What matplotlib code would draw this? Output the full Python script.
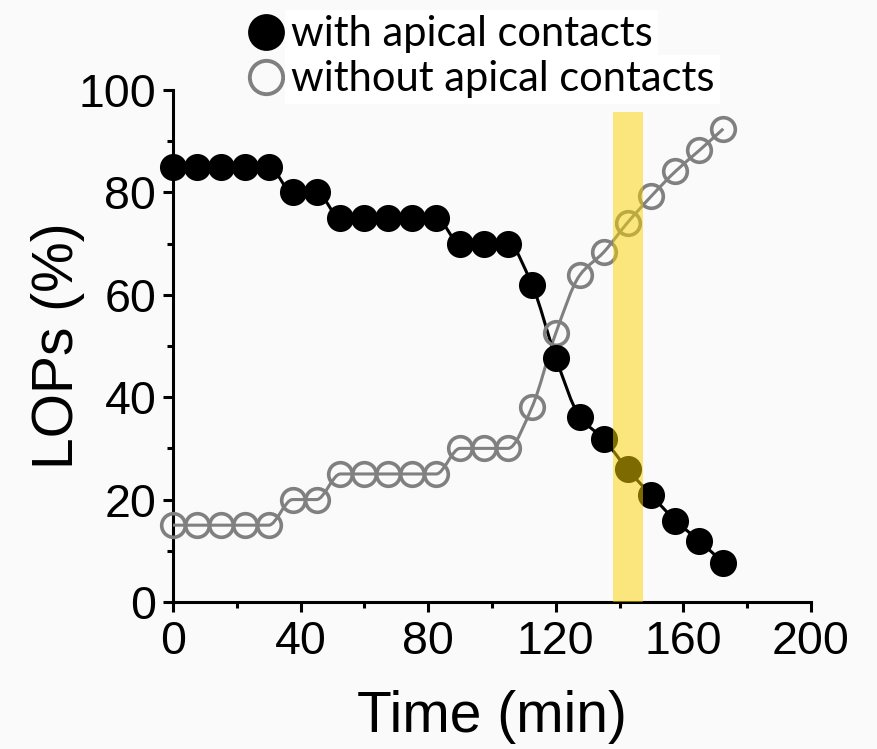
import numpy as np
import matplotlib
matplotlib.use("Agg")
import matplotlib.pyplot as plt
from matplotlib.path import Path
from matplotlib.patches import PathPatch
from matplotlib.lines import Line2D
from matplotlib.ticker import MultipleLocator

# ---- data ----
time_min = [0, 7.5, 15, 22.5, 30, 37.5, 45, 52.5, 60, 67.5, 75, 82.5, 90, 97.5,
            105, 112.5, 120, 127.5, 135, 142.5, 150, 157.5, 165, 172.5]
with_apical = [85, 85, 85, 85, 85, 80, 80, 75, 75, 75, 75, 75, 70, 70, 70,
               62, 47.7, 36.2, 31.8, 25.9, 20.8, 15.9, 11.9, 7.7]
without_apical = [15, 15, 15, 15, 15, 20, 20, 25, 25, 25, 25, 25, 30, 30, 30,
                  38, 52.5, 63.8, 68.3, 74.1, 79.3, 84.1, 88.2, 92.4]
highlight_span = [137.8, 147.2]
series_labels = ["with apical contacts", "without apical contacts"]
x_ticks = [0, 40, 80, 120, 160, 200]
y_ticks = [0, 20, 40, 60, 80, 100]

BG = "#fafafa"


def pchip_bezier_path(x, y):
    """Monotone cubic (Fritsch-Carlson) curve through the points, as a Bezier path."""
    x = np.asarray(x, float)
    y = np.asarray(y, float)
    h = np.diff(x)
    d = np.diff(y) / h
    n = len(x)
    m = np.zeros(n)
    for k in range(1, n - 1):
        if d[k - 1] * d[k] <= 0:
            m[k] = 0.0
        else:
            w1 = 2 * h[k] + h[k - 1]
            w2 = h[k] + 2 * h[k - 1]
            m[k] = (w1 + w2) / (w1 / d[k - 1] + w2 / d[k])
    m[0] = d[0]
    m[-1] = d[-1]
    verts = [(x[0], y[0])]
    codes = [Path.MOVETO]
    for k in range(n - 1):
        verts += [(x[k] + h[k] / 3, y[k] + m[k] * h[k] / 3),
                  (x[k + 1] - h[k] / 3, y[k + 1] - m[k + 1] * h[k] / 3),
                  (x[k + 1], y[k + 1])]
        codes += [Path.CURVE4] * 3
    return Path(verts, codes)


fig = plt.figure(figsize=(8.78, 7.49), dpi=100, facecolor=BG)
ax = fig.add_axes([0.197, 0.1963, 0.7267, 0.6836], facecolor=BG)

lw = 2.2
# smooth connecting curves
ax.add_patch(PathPatch(pchip_bezier_path(time_min, without_apical), facecolor="none",
                       edgecolor="#808080", lw=lw, zorder=3, clip_on=False))
ax.add_patch(PathPatch(pchip_bezier_path(time_min, with_apical), facecolor="none",
                       edgecolor="black", lw=lw, zorder=4, clip_on=False))

ax.plot(time_min, without_apical, linestyle="none", marker="o", markersize=17,
        mfc="none", mec="#808080", mew=2.6, zorder=5, clip_on=False)
ax.plot(time_min, with_apical, linestyle="none", marker="o", markersize=19.5,
        mfc="black", mec="black", mew=0, zorder=6, clip_on=False)

ax.axvspan(highlight_span[0], highlight_span[1], ymin=0, ymax=0.957,
           facecolor="#FAD400", alpha=0.5, lw=0, zorder=7)

ax.set_xlim(0, 200)
ax.set_ylim(0, 100)
ax.set_xticks(x_ticks)
ax.set_yticks(y_ticks)
ax.xaxis.set_minor_locator(MultipleLocator(20))
ax.yaxis.set_minor_locator(MultipleLocator(10))

for s in ["top", "right"]:
    ax.spines[s].set_visible(False)
for s in ["left", "bottom"]:
    ax.spines[s].set_linewidth(2.2)
    ax.spines[s].set_zorder(2)

tick_font = "Liberation Sans"
ax.tick_params(which="major", direction="out", length=7, width=2.2, labelsize=33.5)
ax.tick_params(axis="x", which="major", pad=6)
ax.tick_params(axis="y", which="major", pad=5)
ax.tick_params(which="minor", direction="out", length=4.5, width=2.2)
for lab in ax.get_xticklabels() + ax.get_yticklabels():
    lab.set_fontfamily(tick_font)

ax.set_xlabel("Time (min)", fontsize=41, fontfamily=tick_font, labelpad=19)
ax.set_ylabel("LOPs (%)", fontsize=41, fontfamily=tick_font, labelpad=-5)

handles = [
    Line2D([], [], linestyle="none", marker="o", markersize=26.5, mfc="black",
           mec="black", mew=0),
    Line2D([], [], linestyle="none", marker="o", markersize=24, mfc="none",
           mec="#808080", mew=2.8),
]
leg = fig.legend(handles, series_labels, loc="upper left",
                 bbox_to_anchor=(0.272, 0.988), frameon=False,
                 prop={"family": "Lato", "size": 30}, handlelength=1.0,
                 handletextpad=0.1, labelspacing=0.17, borderpad=0.15,
                 borderaxespad=0)
leg.set_zorder(10)
for t in leg.get_texts():
    t.set_bbox(dict(facecolor="white", edgecolor="none", pad=4))

fig.savefig("out.png", dpi=100, facecolor=BG)
